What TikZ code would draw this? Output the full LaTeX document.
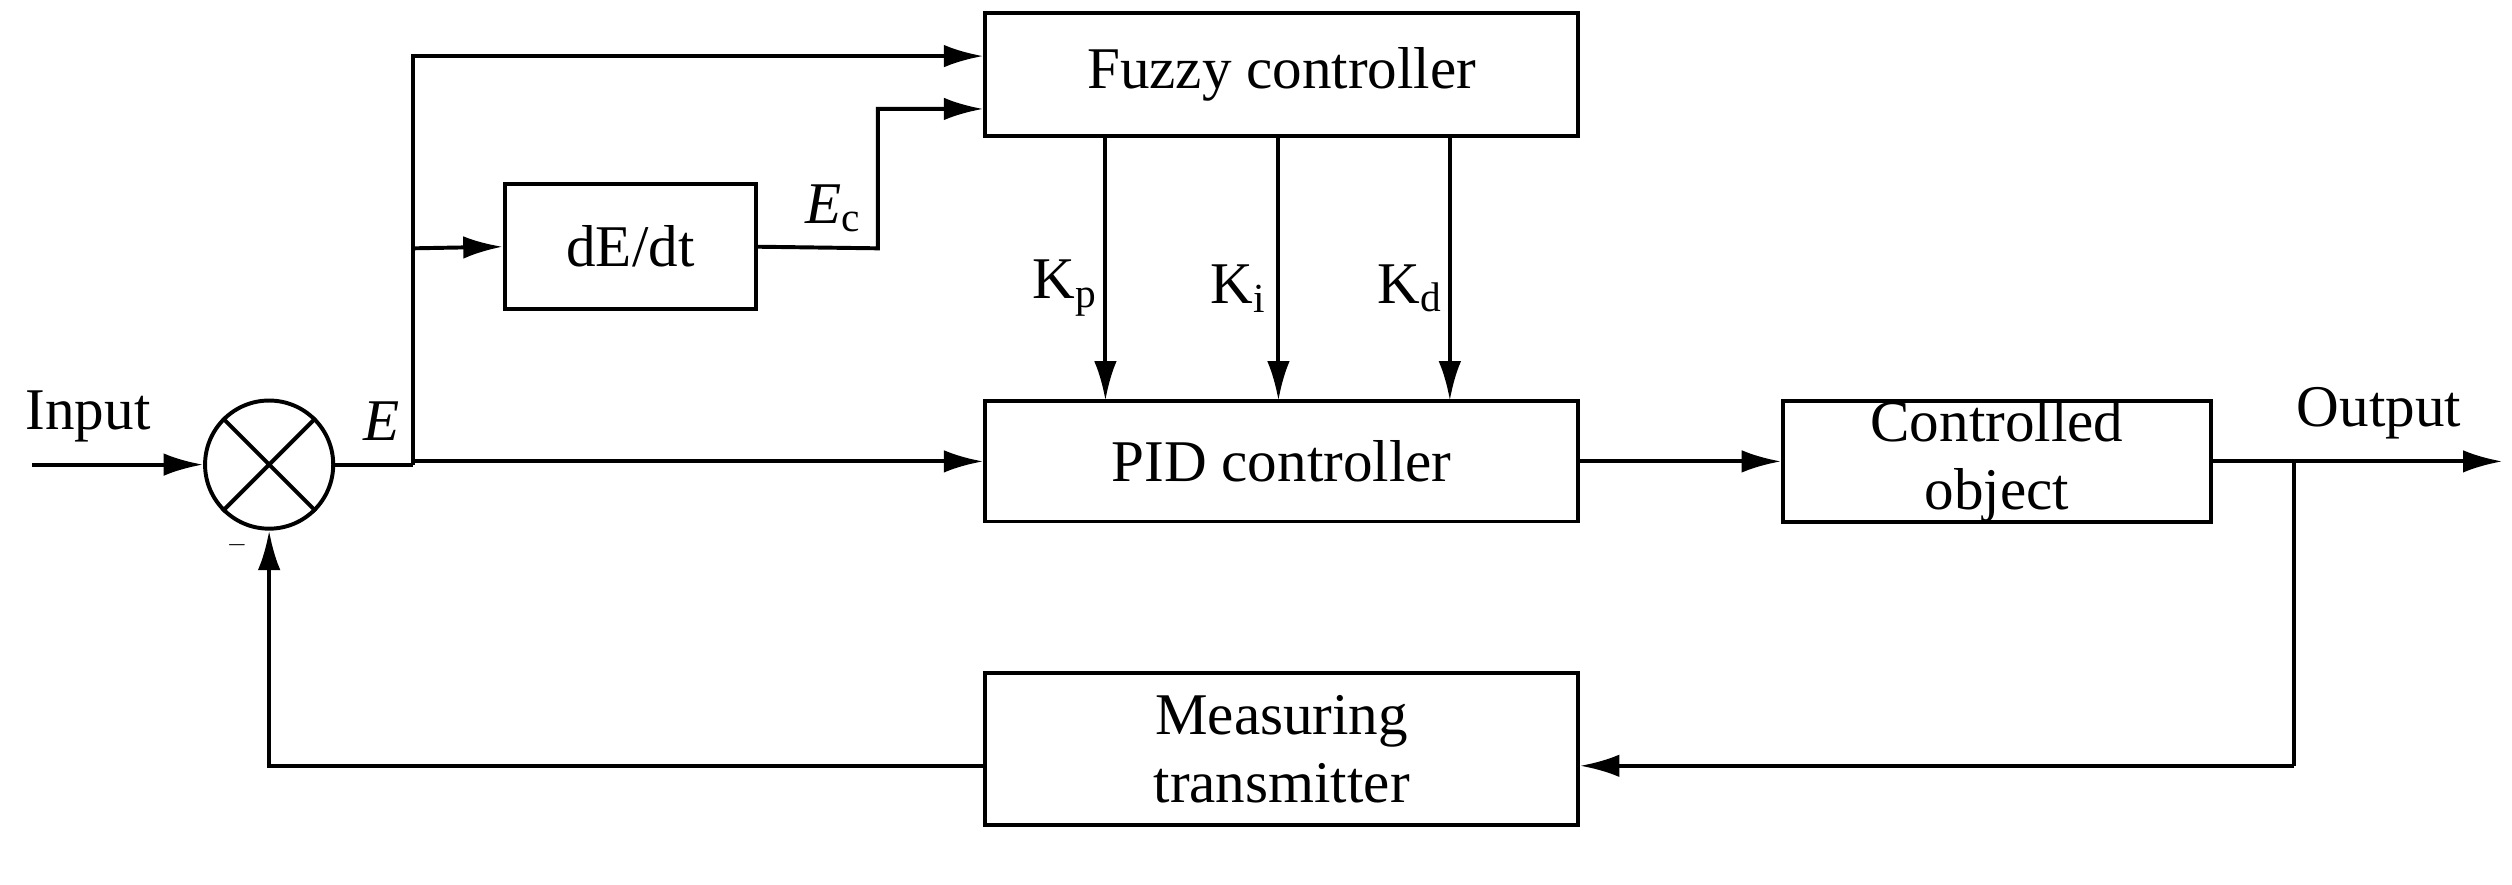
\documentclass[tikz,border=0pt]{standalone}
\usepackage{fontspec}
\setmainfont{Liberation Serif}
\usetikzlibrary{arrows.meta}
\begin{document}
\begin{tikzpicture}[x=0.02cm,y=-0.02cm,
  every node/.style={font=\fontsize{21}{24}\selectfont},
  box/.style={draw,line width=1.4pt,inner sep=0pt},
  ln/.style={line width=1.4pt},
  ar/.style={ln,-{Latex[length=14pt,width=8pt]}}]
\useasboundingbox (0,0) rectangle (1568,552);
\node[box,minimum width=370*0.02cm,minimum height=77*0.02cm] (fz) at (800,46.5) {Fuzzy controller};
\node[box,minimum width=157*0.02cm,minimum height=78*0.02cm] (de) at (393.5,154) {dE/dt};
\node[box,minimum width=370*0.02cm,minimum height=75*0.02cm] (pid) at (800,288) {PID controller};
\node[box,minimum width=267*0.02cm,minimum height=75*0.02cm,align=center] (co) at (1246.5,288) {Controlled\\object};
\node[box,minimum width=370*0.02cm,minimum height=95*0.02cm,align=center] (mt) at (800,467.5) {Measuring\\transmitter};
\node[draw,circle,line width=1.4pt,minimum size=80*0.02cm,inner sep=0pt] (s) at (168,290) {};
\draw[ln] (s.45) -- (s.225) (s.135) -- (s.-45);
\node (in) at (55,260) {Input};
\node (E) at (238,263) {\textit{E}};
\node (ec) at (520,130) {\textit{E}\textsubscript{c}};
\node (mi) at (148,340) {\small$-$};
\node (out) at (1485,258) {Output};
\coordinate (i0) at (20,290);
\coordinate (j) at (258,290);
\coordinate (j1) at (258,35);
\coordinate (j2) at (258,155);
\coordinate (d1) at (548,155);
\coordinate (d2) at (548,68);
\coordinate (o1) at (1432,288);
\coordinate (o2) at (1432,478);
\coordinate (oe) at (1562,288);
\coordinate (m1) at (168,478);
\draw[ar] (i0) -- (s.west);
\draw[ln] (s.east) -- (j);
\draw[ar] (j) -- (j |- pid.west) -- (pid.west);
\draw[ar] (j) -- (j1) -- (fz.west |- j1);
\draw[ar] (j2) -- (de.west);
\draw[ar] (de.east) -- (d1) -- (d2) -- (fz.west |- d2);
\foreach \x/\k/\lx in {690/p/665,798/i/773,905/d/880}{
  \draw[ar] (\x,85) -- (\x,250);
  \node at (\lx,180) {K\textsubscript{\k}};
}
\draw[ar] (pid.east) -- (co.west);
\draw[ar] (co.east) -- (oe);
\draw[ln] (o1) -- (o2);
\draw[ar] (o2) -- (mt.east |- o2);
\draw[ar] (mt.west |- m1) -- (m1) -- (s.south);
\end{tikzpicture}
\end{document}
